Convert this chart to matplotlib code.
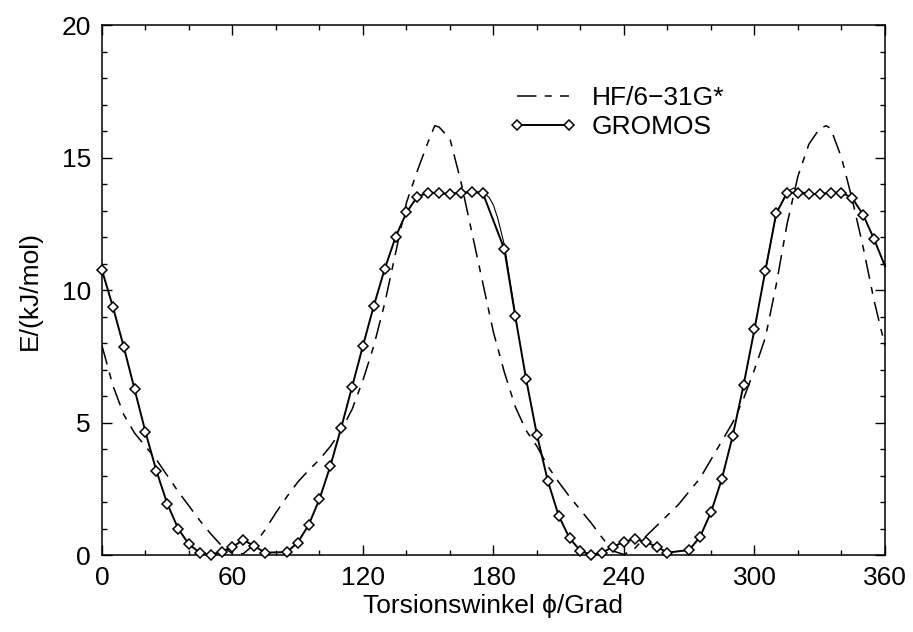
import numpy as np
import matplotlib
matplotlib.use('Agg')
import matplotlib.pyplot as plt

plt.rcParams['font.family'] = ['Liberation Sans', 'DejaVu Sans']
plt.rcParams['lines.scale_dashes'] = False

# HF/6-31G* scan (every 5 deg plus the peaks)
hf_phi = [0, 5, 10, 15, 20, 25, 30, 35, 40, 45, 50, 55, 60, 65, 70, 75, 80, 85, 90,
          95, 100, 105, 110, 115, 120, 125, 130, 135, 140, 145, 150, 153, 155, 160,
          165, 170, 175, 180, 185, 190, 195, 200, 205, 210, 215, 220, 225, 230, 235,
          240, 245, 250, 255, 260, 265, 270, 275, 280, 285, 290, 295, 300, 305, 310,
          315, 320, 325, 330, 333, 335, 340, 345, 350, 355, 360]
hf_e = [7.9, 6.4, 5.3, 4.6, 4.1, 3.6, 3.0, 2.4, 1.85, 1.3, 0.8, 0.35, 0.05, 0.05, 0.4,
        0.95, 1.6, 2.2, 2.75, 3.2, 3.6, 4.1, 4.7, 5.5, 6.6, 7.9, 9.5, 11.4, 13.3, 14.5,
        15.6, 16.2, 16.15, 15.7, 14.1, 12.2, 10.3, 8.4, 6.9, 5.6, 4.7, 4.1, 3.35, 2.75,
        2.2, 1.7, 1.2, 0.65, 0.15, 0.02, 0.25, 0.7, 1.1, 1.5, 1.9, 2.4, 2.9, 3.6, 4.3,
        5.0, 5.9, 7.0, 8.2, 10.2, 12.5, 14.3, 15.5, 16.1, 16.2, 16.1, 15.0, 13.4, 11.6,
        9.6, 7.9]

# GROMOS points (80, 180 and 265 deg are not in the data)
gr_phi = [0, 5, 10, 15, 20, 25, 30, 35, 40, 45, 50, 55, 60, 65, 70, 75, 85, 90, 95,
          100, 105, 110, 115, 120, 125, 130, 135, 140, 145, 150, 155, 160, 165, 170,
          175, 185, 190, 195, 200, 205, 210, 215, 220, 225, 230, 235, 240, 245, 250,
          255, 260, 270, 275, 280, 285, 290, 295, 300, 305, 310, 315, 320, 325, 330,
          335, 340, 345, 350, 355, 360]
gr_e = [10.75, 9.37, 7.86, 6.25, 4.64, 3.18, 1.94, 1.0, 0.40, 0.09, 0.01, 0.13, 0.31,
        0.57, 0.34, 0.09, 0.11, 0.47, 1.13, 2.11, 3.36, 4.81, 6.35, 7.90, 9.41, 10.8,
        12.0, 12.93, 13.52, 13.68, 13.65, 13.62, 13.68, 13.69, 13.68, 11.54, 9.02, 6.64,
        4.53, 2.79, 1.48, 0.63, 0.16, 0.0, 0.09, 0.31, 0.50, 0.60, 0.50, 0.31, 0.09,
        0.19, 0.69, 1.61, 2.87, 4.50, 6.42, 8.52, 10.73, 12.89, 13.67, 13.67, 13.62,
        13.62, 13.67, 13.68, 13.47, 12.83, 11.92, 10.9]

# thin unlabeled curve, only drawn where it shows apart from GROMOS
fit1_phi = [170, 175, 178, 180, 182, 185, 190]
fit1_e = [13.69, 13.68, 13.5, 13.2, 12.7, 11.7, 9.1]
fit2_phi = [305, 310, 315, 318, 320, 325]
fit2_e = [10.73, 12.89, 13.7, 13.85, 13.75, 13.62]

fig = plt.figure(figsize=(9.13, 6.32), dpi=100)
ax = fig.add_axes([0.1117, 0.1218, 0.8576, 0.8386])

ax.plot(fit1_phi, fit1_e, color='black', lw=0.8)
ax.plot(fit2_phi, fit2_e, color='black', lw=0.8)
ax.plot(hf_phi, hf_e, color='black', lw=1.1, linestyle=(0, (14, 6, 5, 6)),
        label='HF/6\u221231G*')
ax.plot(gr_phi, gr_e, color='black', lw=1.4, marker='D', ms=5.6, mfc='white',
        mec='black', mew=1.1, markevery=list(range(len(gr_phi) - 1)),
        clip_on=False, label='GROMOS', zorder=3)

ax.set_xlim(0, 360)
ax.set_ylim(0, 20)
ax.set_xticks(np.arange(0, 361, 60))
ax.set_xticks(np.arange(0, 361, 20), minor=True)
ax.set_yticks(np.arange(0, 21, 5))
ax.set_yticks(np.arange(0, 21, 1), minor=True)
ax.tick_params(which='both', direction='in', top=True, right=True, width=1.0,
               labelsize=19, pad=8)
ax.tick_params(which='major', length=7)
ax.tick_params(which='minor', length=3.5)
for s in ax.spines.values():
    s.set_linewidth(1.1)

ax.set_xlabel('Torsionswinkel \u03d5/Grad', fontsize=19, labelpad=3)
ax.set_ylabel('E/(kJ/mol)', fontsize=19, labelpad=14)

leg = ax.legend(loc='upper left', bbox_to_anchor=(0.489, 0.93), frameon=False,
                fontsize=19, handlelength=2.6, handletextpad=0.55,
                labelspacing=0.2, numpoints=2, markerscale=0.85)

fig.savefig('out.png', dpi=100)
